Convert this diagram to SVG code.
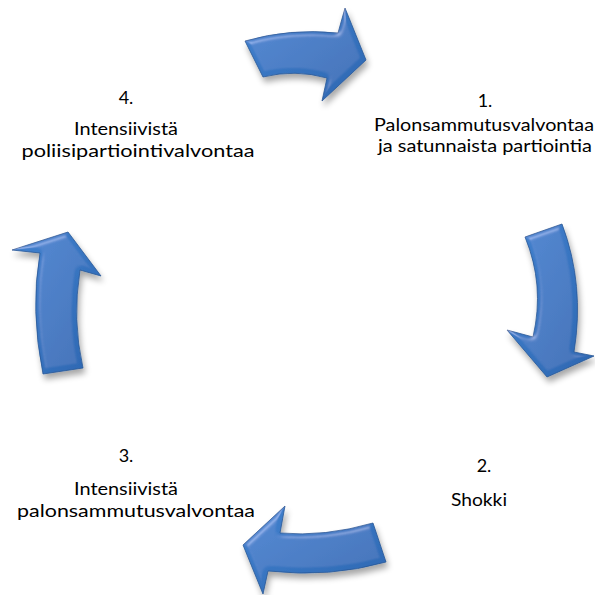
<svg xmlns="http://www.w3.org/2000/svg" width="595" height="595" viewBox="0 0 595 595">
  <defs>
    <style>
      .lbl { font-family: "Lato", "Open Sans", "Liberation Sans", sans-serif; font-size: 18px; fill: #000; text-anchor: middle; }
      .arrow { fill: url(#blueGrad); stroke: #275795; stroke-width: 0.8; stroke-linejoin: round; filter: url(#bevel); }
    </style>
    <linearGradient id="blueGrad" x1="0" y1="0" x2="1" y2="1">
      <stop offset="0" stop-color="#4282d0"/>
      <stop offset="1" stop-color="#2c66b0"/>
    </linearGradient>
    <filter id="bevel" x="-25%" y="-25%" width="150%" height="160%">
      <feGaussianBlur in="SourceAlpha" stdDeviation="2.5" result="blur"/>
      <feSpecularLighting in="blur" surfaceScale="4" specularConstant="0.6" specularExponent="18" lighting-color="#ffffff" result="spec">
        <feDistantLight azimuth="235" elevation="40"/>
      </feSpecularLighting>
      <feComposite in="spec" in2="SourceAlpha" operator="in" result="specIn"/>
      <feComposite in="SourceGraphic" in2="specIn" operator="arithmetic" k1="0" k2="1" k3="0.35" k4="0" result="lit"/>
      <feGaussianBlur in="SourceAlpha" stdDeviation="3" result="sblur"/>
      <feOffset in="sblur" dx="2" dy="5" result="soff"/>
      <feComponentTransfer in="soff" result="shadow">
        <feFuncA type="linear" slope="0.35"/>
      </feComponentTransfer>
      <feMerge>
        <feMergeNode in="shadow"/>
        <feMergeNode in="lit"/>
      </feMerge>
    </filter>
  </defs>
  <rect width="595" height="595" fill="#ffffff"/>

  <g id="connectors">
    <path id="arrow-top" class="arrow" d="M245,41 Q290,28 338,33 L345,8 L366,60 L322,101 L327,78 Q295,69 263,77 Z"/>
    <path id="arrow-right" class="arrow" d="M525,237 L562,224 Q585,285 574,352 L594,356 L547,377 L507,330 L533,337 Q545,285 525,237 Z"/>
    <path id="arrow-bottom" class="arrow" d="M373,523 Q325,537 280,533 L285,506 L243,545 L263,594 L268,571 Q330,578 386,562 Z"/>
    <path id="arrow-left" class="arrow" d="M43,374 Q30,310 40,253 L12,250 L68,232 L101,276 L80,270 Q72,320 83,368 Z"/>
  </g>

  <g id="node-1">
    <text class="lbl" x="485" y="107">1.</text>
    <text class="lbl" x="484" y="131" textLength="220" lengthAdjust="spacingAndGlyphs">Palonsammutusvalvontaa</text>
    <text class="lbl" x="485" y="152" textLength="214" lengthAdjust="spacingAndGlyphs">ja satunnaista partiointia</text>
  </g>
  <g id="node-2">
    <text class="lbl" x="484" y="472">2.</text>
    <text class="lbl" x="479" y="506" textLength="56" lengthAdjust="spacingAndGlyphs">Shokki</text>
  </g>
  <g id="node-3">
    <text class="lbl" x="126" y="462">3.</text>
    <text class="lbl" x="126" y="495" textLength="104" lengthAdjust="spacingAndGlyphs">Intensiivistä</text>
    <text class="lbl" x="136" y="517" textLength="238" lengthAdjust="spacingAndGlyphs">palonsammutusvalvontaa</text>
  </g>
  <g id="node-4">
    <text class="lbl" x="126" y="104">4.</text>
    <text class="lbl" x="126" y="135" textLength="104" lengthAdjust="spacingAndGlyphs">Intensiivistä</text>
    <text class="lbl" x="138" y="157" textLength="233" lengthAdjust="spacingAndGlyphs">poliisipartiointivalvontaa</text>
  </g>
</svg>
